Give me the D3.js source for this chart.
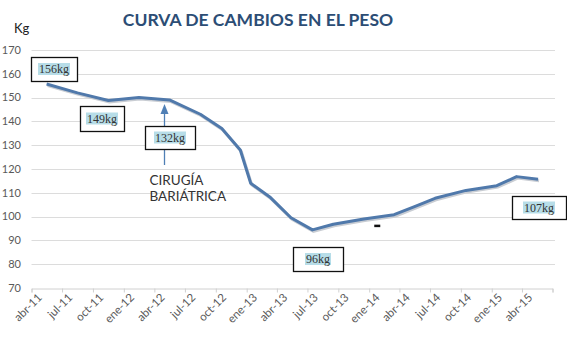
<!DOCTYPE html>
<html lang="es">
<head>
<meta charset="UTF-8">
<title>Curva de cambios en el peso</title>
<style>
  body { margin: 0; background: #fff; }
  svg { display: block; }
</style>
</head>
<body>
<script src="https://cdn.jsdelivr.net/npm/d3@7/dist/d3.min.js"></script>
<script>
const W = 567, H = 353;

const fechas = ["2011-05-16","2011-08-16","2011-11-16","2012-02-15","2012-05-16","2012-08-16",
  "2012-10-19","2012-12-13","2013-01-13","2013-03-13","2013-05-13","2013-07-16",
  "2013-09-16","2013-12-16","2014-03-16","2014-05-16","2014-07-16","2014-10-16",
  "2015-01-16","2015-03-16","2015-05-19"];
const pesos = [155.7, 152, 148.8, 150, 149, 143, 137, 128, 114, 108, 99.5, 94.4,
  96.8, 99, 100.8, 104.2, 107.7, 111, 113, 116.8, 115.7];

const yTicks = [70, 80, 90, 100, 110, 120, 130, 140, 150, 160, 170];
const mesesCortos = ["ene","feb","mar","abr","may","jun","jul","ago","sep","oct","nov","dic"];

// etiquetas de texto del gráfico
const etiquetas = ["156kg", "149kg", "132kg", "96kg", "107kg"];
const nota = ["CIRUGÍA", "BARIÁTRICA"];
const notaFecha = "2012-05-01";

const svg = d3.select("body").append("svg").attr("width", W).attr("height", H);

const parse = d3.timeParse("%Y-%m-%d");
const datos = fechas.map((f, i) => ({ fecha: parse(f), peso: pesos[i] }));

const x = d3.scaleTime()
  .domain([new Date(2011, 3, 1), new Date(2015, 6, 1)])
  .range([31.5, 552.5]);
const y = d3.scaleLinear().domain([70, 170]).range([288, 50]);

// titulo
svg.append("text")
  .attr("x", 258).attr("y", 26)
  .attr("text-anchor", "middle")
  .style("font-family", "Lato, 'Open Sans', sans-serif")
  .style("font-weight", "bold")
  .style("font-size", "17.5px")
  .style("fill", "#2c4d75")
  .text("CURVA DE CAMBIOS EN EL PESO");

svg.append("text")
  .attr("x", 14).attr("y", 33)
  .style("font-family", "Lato, sans-serif")
  .style("font-size", "13px")
  .style("fill", "#222")
  .text("Kg");

// rejilla
svg.append("g")
  .selectAll("line")
  .data(yTicks.filter(d => d > 70))
  .join("line")
    .attr("x1", 31.5).attr("x2", 555)
    .attr("y1", d => Math.round(y(d)) + 0.5)
    .attr("y2", d => Math.round(y(d)) + 0.5)
    .attr("stroke", "#dcdcdc");

// eje y (solo etiquetas)
svg.append("g")
  .selectAll("text")
  .data(yTicks)
  .join("text")
    .attr("x", 21).attr("y", d => y(d))
    .attr("dy", "0.35em")
    .attr("text-anchor", "end")
    .style("font-family", "Lato, sans-serif")
    .style("font-size", "11px")
    .style("fill", "#595959")
    .text(d => d);

// eje x
const xAxis = d3.axisBottom(x)
  .ticks(d3.timeMonth.every(3))
  .tickSize(4)
  .tickFormat(d => d >= new Date(2015, 6, 1) ? "" :
    mesesCortos[d.getMonth()] + "-" + String(d.getFullYear()).slice(2));

const gx = svg.append("g")
  .attr("transform", "translate(0,288.5)")
  .call(xAxis);
gx.select(".domain").attr("stroke", "#d0d0d0");
gx.selectAll(".tick line").attr("stroke", "#d0d0d0");
gx.selectAll(".tick text")
  .attr("text-anchor", "end")
  .attr("transform", "translate(5,4) rotate(-45)")
  .attr("x", 0).attr("y", 0).attr("dy", "0.7em")
  .style("font-family", "Lato, sans-serif")
  .style("font-size", "11.5px")
  .style("fill", "#595959");

// linea
const linea = d3.line().x(d => x(d.fecha)).y(d => y(d.peso));

svg.append("path")
  .datum(datos)
  .attr("fill", "none")
  .attr("stroke", "#c9cdd3")
  .attr("stroke-width", 3)
  .attr("transform", "translate(1,1.5)")
  .attr("d", linea);

svg.append("path")
  .datum(datos)
  .attr("fill", "none")
  .attr("stroke", "#5079ab")
  .attr("stroke-width", 3)
  .attr("stroke-linejoin", "round")
  .attr("d", linea);

// flecha de la cirugia
const xa = Math.round(x(parse(notaFecha))) + 0.5;
svg.append("line")
  .attr("x1", xa).attr("x2", xa)
  .attr("y1", 165).attr("y2", 112)
  .attr("stroke", "#4f7fb5").attr("stroke-width", 1.3);
svg.append("path")
  .attr("d", `M${xa},104 L${xa - 4},114 L${xa + 4},114 Z`)
  .attr("fill", "#4f7fb5");

svg.append("g")
  .selectAll("text")
  .data(nota)
  .join("text")
    .attr("x", xa - 15)
    .attr("y", (d, i) => 185 + i * 15.5)
    .style("font-family", "Lato, sans-serif")
    .style("font-size", "13.5px")
    .style("fill", "#333")
    .text(d => d);

// cajas de etiquetas
const cajas = [
  [31, 57, 46, 24],
  [80, 106, 44, 25],
  [145, 126, 50, 23],
  [293, 247, 50, 24],
  [512, 196, 54, 23]
];

const gCajas = svg.append("g")
  .selectAll("g")
  .data(etiquetas)
  .join("g")
    .attr("transform", (d, i) => `translate(${cajas[i][0]},${cajas[i][1]})`);

gCajas.append("rect")
  .attr("x", 0.5).attr("y", 0.5)
  .attr("width", (d, i) => cajas[i][2])
  .attr("height", (d, i) => cajas[i][3])
  .attr("fill", "#fff")
  .attr("stroke", "#111")
  .attr("stroke-width", 1.3);

gCajas.append("text")
  .attr("x", (d, i) => cajas[i][2] / 2)
  .attr("y", (d, i) => cajas[i][3] / 2 + 4)
  .attr("text-anchor", "middle")
  .style("font-family", "'Liberation Serif', 'DejaVu Serif', serif")
  .style("font-size", "12px")
  .style("fill", "#333")
  .text(d => d)
  .each(function() {
    const b = this.getBBox();
    d3.select(this.parentNode).insert("rect", "text")
      .attr("x", b.x - 1).attr("y", b.y + 1)
      .attr("width", b.width + 2).attr("height", b.height - 2)
      .attr("fill", "#b7dde8");
  });

// marca pequeña
svg.append("rect")
  .attr("x", x(parse("2014-01-25")) - 3)
  .attr("y", y(96.2) - 1)
  .attr("width", 6).attr("height", 2.5)
  .attr("fill", "#111");
</script>
</body>
</html>
